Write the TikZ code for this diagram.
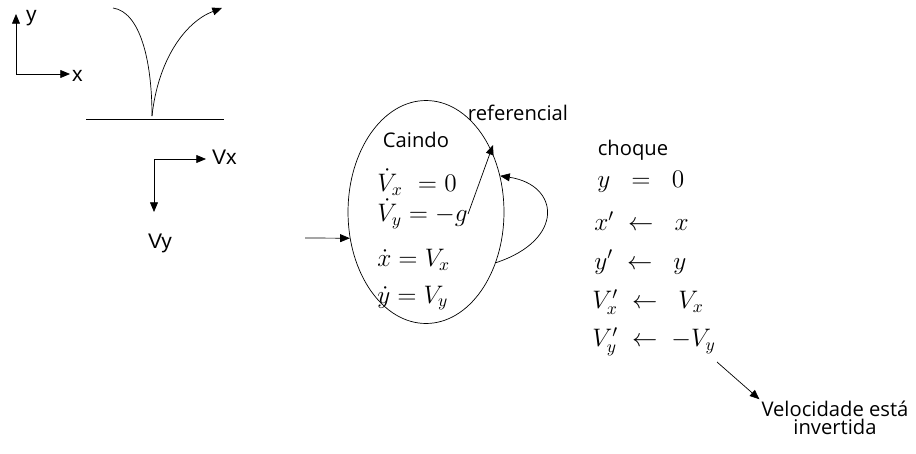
\documentclass[tikz,border=0pt]{standalone}
\usepackage{fontspec}
\usepackage{tikz}
\usetikzlibrary{shapes.geometric, arrows.meta, positioning}
\newfontfamily\axisfont{Liberation Sans}
\newfontfamily\notefont{Open Sans}

\begin{document}
\begin{tikzpicture}[x=0.02cm, y=-0.02cm, >={Triangle[length=5.5pt, width=4.5pt]},
    axlbl/.style={font=\axisfont\fontsize{12}{14}\selectfont, inner sep=1pt},
    note/.style={font=\notefont\fontsize{11.5}{13}\selectfont, inner sep=1pt, align=center},
    eq/.style={font=\Large, inner sep=0pt, anchor=west},
    state/.style={draw, ellipse, minimum width=3.12cm, minimum height=4.46cm, inner sep=0pt}]
        \useasboundingbox (0,0) rectangle (916,453);

        % eixos x, y
        \coordinate (o1) at (16,74);
        \coordinate (ytip) at (16,14);
        \coordinate (xtip) at (70,74);
        \node[axlbl, anchor=west] (ylbl) at (24,18) {y};
        \node[axlbl, anchor=west] (xlbl) at (70,76) {x};

        % chao e trajetoria
        \coordinate (gl) at (86,119);
        \coordinate (gr) at (224,119);
        \coordinate (drop) at (113,8);
        \coordinate (hit) at (152,116);
        \coordinate (up) at (222,8);

        % eixos Vx, Vy
        \coordinate (o2) at (154,159);
        \coordinate (vxtip) at (206,159);
        \coordinate (vytip) at (154,212);
        \node[axlbl, anchor=west] (vxlbl) at (210,157) {Vx};
        \node[axlbl] (vylbl) at (160,243) {Vy};

        % estado caindo
        \node[state] (fsm) at (426,212) {};
        \node[note] (caindo) at (416,140) {Caindo};
        \node[eq] (ax) at (377,182) {$\dot{V}_x\ = 0$};
        \node[eq] (ay) at (377,214) {$\dot{V}_y = -g$};
        \node[eq] (dx) at (377,260) {$\dot{x} = V_x$};
        \node[eq] (dy) at (377,298) {$\dot{y} = V_y$};
        \node[note] (ref) at (518,113) {referencial};
        \coordinate (reftip) at (493,145);
        \coordinate (in) at (305,238);

        % choque
        \node[note] (choque) at (633,150) {choque};
        \node[eq] (c0) at (597,182) {$y \;\;=\;\; 0$};
        \node[eq] (c1) at (594,221) {$x' \;\leftarrow\;\; x$};
        \node[eq] (c2) at (594,262) {$y' \;\leftarrow\;\; y$};
        \node[eq] (c3) at (592,302) {$V_x' \;\leftarrow\;\; V_x$};
        \node[eq] (c4) at (592,342) {$V_y' \;\leftarrow\; -V_y$};
        \coordinate (inv) at (717,362);
        \node[note] (vel) at (835,418) {Velocidade está\\[-3pt]invertida};

        \draw[->] (o1) -- (ytip);
        \draw[->] (o1) -- (xtip);
        \draw (gl) -- (gr);
        \draw (drop) .. controls (140,12) and (152,60) .. (hit);
        \draw[->] (hit) .. controls (158,60) and (185,22) .. (up);
        \draw[->] (o2) -- (vxtip);
        \draw[->] (o2) -- (vytip);

        \path[->]
        (in) edge (fsm.199)
        (ay.east) edge (reftip)
        (inv) edge (vel.north west);
        \draw[->] (fsm.-36) .. controls (565,240) and (560,185) .. (fsm.26);
    \end{tikzpicture}
\end{document}
